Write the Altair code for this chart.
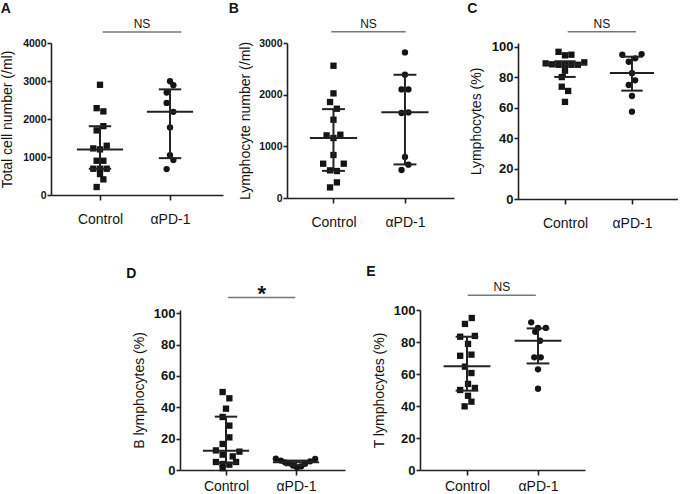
import altair as alt
import pandas as pd

GROUPS = ["Control", "αPD-1"]

# ---------------- Panel A : Total cell number (/ml)
a_ctrl = [2900, 2285, 2200, 1812, 1700, 1226, 1200, 1296, 901, 901, 691, 691, 691, 551, 412, 210]
a_ctrl_jit = [0, -1, 1, 1, -1, -2, 0, 2, -1, 1, -2, 0, 2, 0, 1, -1]
a_pd1 = [2994, 2889, 2697, 2424, 2188, 1778, 1050, 919, 683]
a_pd1_jit = [0, 1, -1, -1, 1, 0, 0, 1, -1]
a_median = [1200, 2190]
a_q1 = [690, 970]
a_q3 = [1810, 2780]
a_ticks = [0, 1000, 2000, 3000, 4000]

# ---------------- Panel B : Lymphocyte number (/ml)
b_ctrl = [2560, 2025, 1858, 1728, 1515, 1212, 1225, 1161, 832, 664, 664, 535, 522, 302, 205]
b_ctrl_jit = [0, 0, -1, 1, 0, -2, 2, 0, 0, -3, 3, -1, 1, 1, -1]
b_pd1 = [2818, 2386, 2102, 2102, 1645, 1657, 793, 645, 542]
b_pd1_jit = [0, 0, -1, 1, -1, 1, 0, 1, -1]
b_median = [1160, 1660]
b_q1 = [525, 650]
b_q3 = [1720, 2385]
b_ticks = [0, 1000, 2000, 3000]

# ---------------- Panel C : Lymphocytes (%)
c_ctrl = [96.7, 94.4, 94.8, 89.1, 88.5, 88.2, 88.2, 88.2, 88.2, 89.8, 84.3, 80.1, 73.8, 71.0, 63.8]
c_ctrl_jit = [-2, 0, 2, -6, -4, -2, 0, 2, 4, 6, 0, -1, -1, 1, 0]
c_pd1 = [94.8, 95.2, 92.4, 90.2, 82.6, 78.0, 74.9, 67.7, 57.4]
c_pd1_jit = [-3, 3, 1, -1, 0, 1, -1, 0, 0]
c_median = [88.3, 82.8]
c_q1 = [80.2, 71.2]
c_q3 = [90.5, 93.5]
pct_ticks = [0, 20, 40, 60, 80, 100]

# ---------------- Panel D : B lymphocytes (%)
d_ctrl = [49.7, 45.7, 39.1, 33.8, 28.3, 20.8, 16.6, 12.5, 11.7, 9.8, 8.7, 5.1, 3.8, 3.4, 5.1, 1.2]
d_ctrl_jit = [-1, 1, 0, -1, 1, 1, -1, -3, 4, -1, 2, -3, -1, 1, 3, -1]
d_pd1 = [7.2, 6.0, 4.9, 4.4, 2.8, 1.7, 2.3, 4.0, 5.5, 7.0]
d_pd1_jit = [-6, -4.5, -3.3, -1.8, -0.9, 0.3, 1.5, 2.7, 4.2, 5.7]
d_median = [12.2, 5.0]
d_q1 = [4.5, 3.0]
d_q3 = [34.0, 6.0]

# ---------------- Panel E : T lymphocytes (%)
e_ctrl = [95.0, 91.3, 83.3, 83.8, 78.8, 71.4, 72.1, 64.6, 60.6, 53.8, 50.0, 51.3, 46.4, 42.7, 39.8]
e_ctrl_jit = [1.4, -0.6, -2, 2.3, 0.3, -2, 1.3, -0.6, 1.3, 0.3, -2, 2.3, 0.3, 1.3, -0.7]
e_pd1 = [92.3, 88.8, 88.8, 86.4, 80.8, 70.4, 70.4, 62.9, 50.8]
e_pd1_jit = [-2, 0, 2.3, -0.8, 0.6, -1.1, 0.8, 0, 0]
e_median = [64.8, 80.8]
e_q1 = [49.6, 66.6]
e_q3 = [83.3, 88.5]

SLOT = 0.048
INK = "#141414"
BASE_FONT = "Liberation Sans"
NARROW_FONT = "Liberation Sans Narrow, Arial Narrow, Liberation Sans"


def make_panel(letter, letter_dx, ytitle, ctrl, ctrl_jit, pd1, pd1_jit, med, q1, q3,
               sig_text, sig_x1, sig_x2, sig_y, sig_size, sig_dy,
               ydomain, yticks, xdomain, w, h,
               tick_font, tick_size, tick_weight, x_label_pad, title_pad):
    pts = pd.DataFrame({
        "group": [GROUPS[0]] * len(ctrl) + [GROUPS[1]] * len(pd1),
        "x": [1 + j * SLOT for j in ctrl_jit] + [2 + j * SLOT for j in pd1_jit],
        "y": ctrl + pd1,
    })
    summ = pd.DataFrame({"g": [1, 2], "med": med, "q1": q1, "q3": q3})
    sig = pd.DataFrame({"x1": [sig_x1], "x2": [sig_x2], "y": [sig_y],
                        "xm": [(sig_x1 + sig_x2) / 2], "label": [sig_text]})

    xs = alt.Scale(domain=xdomain, nice=False, zero=False)
    ys = alt.Scale(domain=ydomain, nice=False, zero=False)

    x_axis = alt.Axis(values=[1, 2], labelExpr="datum.value == 1 ? 'Control' : 'αPD-1'",
                      title=None, grid=False, domainColor="#222", domainWidth=1.6,
                      tickColor="#222", tickWidth=1.6, tickSize=5, labelFont=BASE_FONT,
                      labelFontSize=14, labelColor=INK, labelPadding=x_label_pad,
                      labelFlush=False)
    y_axis = alt.Axis(values=yticks, title=ytitle, grid=False, domainColor="#222",
                      domainWidth=1.6, tickColor="#222", tickWidth=1.6, tickSize=4,
                      labelFont=tick_font, labelFontSize=tick_size,
                      labelFontWeight=tick_weight, labelColor=INK, labelPadding=1,
                      labelFlush=False, format="d",
                      titleFont=BASE_FONT, titleFontSize=14, titleFontWeight="normal",
                      titleColor=INK, titlePadding=title_pad)

    def X(field):
        return alt.X(field, scale=xs, axis=x_axis)

    def Y(field):
        return alt.Y(field, scale=ys, axis=y_axis)

    points = alt.Chart(pts).mark_point(filled=True, size=40, opacity=1, color=INK).encode(
        x=X("x:Q"), y=Y("y:Q"),
        shape=alt.Shape("group:N", scale=alt.Scale(domain=GROUPS, range=["square", "circle"]),
                        legend=None),
    )

    base = alt.Chart(summ)
    med_line = base.transform_calculate(a="datum.g - 0.33", b="datum.g + 0.33").mark_rule(
        color="#222", strokeWidth=2).encode(x=X("a:Q"), x2="b:Q", y=Y("med:Q"))
    cap_lo = base.transform_calculate(a="datum.g - 0.16", b="datum.g + 0.16").mark_rule(
        color="#222", strokeWidth=2).encode(x=X("a:Q"), x2="b:Q", y=Y("q1:Q"))
    cap_hi = base.transform_calculate(a="datum.g - 0.16", b="datum.g + 0.16").mark_rule(
        color="#222", strokeWidth=2).encode(x=X("a:Q"), x2="b:Q", y=Y("q3:Q"))
    vert = base.mark_rule(color="#222", strokeWidth=2).encode(
        x=X("g:Q"), y=Y("q1:Q"), y2="q3:Q")

    sig_rule = alt.Chart(sig).mark_rule(color="#777", strokeWidth=1.5).encode(
        x=X("x1:Q"), x2="x2:Q", y=Y("y:Q"))
    sig_lab = alt.Chart(sig).mark_text(
        baseline="alphabetic", align="center", dy=sig_dy, fontSize=sig_size, font=BASE_FONT,
        color=INK, fontWeight="bold" if sig_text == "*" else "normal").encode(
        x=X("xm:Q"), y=Y("y:Q"), text="label:N")

    return alt.layer(points, med_line, cap_lo, cap_hi, vert, sig_rule, sig_lab).properties(
        width=w, height=h,
        title=alt.TitleParams(letter, anchor="start", frame="bounds", fontSize=14,
                              fontWeight="bold", font=BASE_FONT, color=INK, dx=letter_dx,
                              offset=2),
    )


panel_a = make_panel("A", 0, "Total cell number (/ml)", a_ctrl, a_ctrl_jit, a_pd1, a_pd1_jit,
                     a_median, a_q1, a_q3, "NS", 1.04, 2.16, 4290, 12, -4,
                     [0, 4000], a_ticks, [0.3, 2.757], 172, 152,
                     BASE_FONT, 10.5, "bold", 12, 8)
panel_b = make_panel("B", -10, "Lymphocyte number (/ml)", b_ctrl, b_ctrl_jit, b_pd1, b_pd1_jit,
                     b_median, b_q1, b_q3, "NS", 0.97, 2.01, 3220, 12, -4,
                     [0, 3000], b_ticks, [0.35, 2.686], 167, 155,
                     BASE_FONT, 10.5, "bold", 12, 6)
panel_c = make_panel("C", -2, "Lymphocytes (%)", c_ctrl, c_ctrl_jit, c_pd1, c_pd1_jit,
                     c_median, c_q1, c_q3, "NS", 1.04, 2.06, 109.9, 12, -4,
                     [0, 102.5], pct_ticks, [0.299, 2.687], 160, 156,
                     NARROW_FONT, 13, "bold", 12, 8)
panel_d = make_panel("D", -6, "B lymphocytes (%)", d_ctrl, d_ctrl_jit, d_pd1, d_pd1_jit,
                     d_median, d_q1, d_q3, "*", 1.03, 1.99, 109.9, 22, 3,
                     [0, 102], pct_ticks, [0.343, 2.7], 165, 160,
                     NARROW_FONT, 13, "bold", 4, 7)
panel_e = make_panel("E", -6, "T lymphocytes (%)", e_ctrl, e_ctrl_jit, e_pd1, e_pd1_jit,
                     e_median, e_q1, e_q3, "NS", 1.01, 1.97, 109.2, 12, -4,
                     [0, 100], pct_ticks, [0.338, 2.662], 165, 160,
                     NARROW_FONT, 13, "bold", 4, 7)

spacer = alt.Chart(pd.DataFrame({"v": [0]})).mark_point(opacity=0).encode(
    x=alt.X("v:Q", axis=None), y=alt.Y("v:Q", axis=None)).properties(width=54, height=160)

row1 = alt.hconcat(panel_a, panel_b, panel_c, spacing=64, bounds="flush")
row2 = alt.hconcat(spacer, panel_d, panel_e, spacing=75, bounds="flush")

chart = alt.vconcat(row1, row2, spacing=267, bounds="flush").properties(
    padding={"left": 0, "top": 1, "right": 0, "bottom": 0},
    background="white",
).configure_view(stroke=None)

chart.save("out.html", embed_options={"renderer": "svg", "actions": False})
